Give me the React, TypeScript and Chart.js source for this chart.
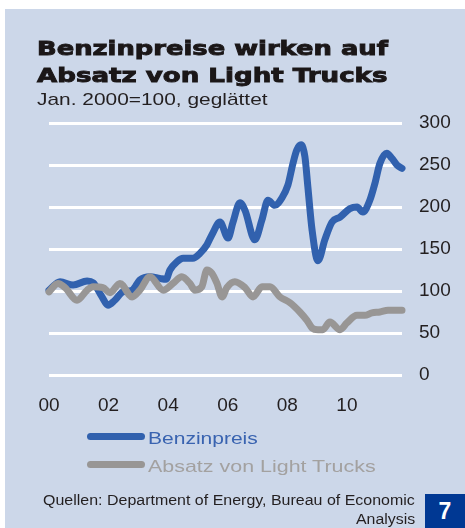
import React, { useEffect, useLayoutEffect, useRef, useState } from "react";
import { Chart, registerables } from "chart.js";

Chart.register(...registerables);

// ---- Data (decimal years, index Jan 2000 = 100) ----
const benzinTime = [
  2000.0, 2000.37, 2000.81, 2001.28, 2001.48, 2001.78, 2001.98, 2002.21, 2002.48, 2002.79,
  2003.05, 2003.39, 2003.72, 2003.93, 2004.06, 2004.3, 2004.5, 2004.83, 2005.07, 2005.3,
  2005.47, 2005.74, 2006.01, 2006.17, 2006.41, 2006.58, 2006.91, 2007.15, 2007.35, 2007.58,
  2007.82, 2008.02, 2008.19, 2008.32, 2008.46, 2008.59, 2008.69, 2008.83, 2009.03, 2009.26,
  2009.5, 2009.77, 2010.1, 2010.34, 2010.54, 2010.77, 2010.94, 2011.11, 2011.34, 2011.51,
  2011.68, 2011.85,
];
const benzinIndex = [
  101, 111, 107, 112, 110, 93, 83, 89, 99, 101,
  113, 117, 115, 114, 125, 135, 139, 139, 145, 155,
  167, 182, 163, 181, 205, 196, 161, 185, 208, 202,
  211, 226, 252, 268, 274, 260, 224, 173, 136, 161,
  182, 188, 198, 200, 194, 208, 228, 252, 264, 258,
  250, 246,
];
const absatzTime = [
  2000.0, 2000.3, 2000.54, 2000.94, 2001.28, 2001.48, 2001.81, 2002.05, 2002.38, 2002.79,
  2003.05, 2003.39, 2003.83, 2004.16, 2004.46, 2004.73, 2004.9, 2005.13, 2005.3, 2005.47,
  2005.64, 2005.81, 2005.97, 2006.24, 2006.58, 2006.85, 2007.15, 2007.42, 2007.75, 2008.09,
  2008.42, 2008.66, 2008.83, 2009.03, 2009.19, 2009.43, 2009.77, 2010.0, 2010.34, 2010.6,
  2010.84, 2011.11, 2011.38, 2011.85,
];
const absatzIndex = [
  99, 109, 104, 89, 101, 105, 104, 98, 109, 93,
  101, 117, 101, 109, 117, 109, 101, 105, 125, 121,
  109, 93, 104, 111, 104, 93, 105, 105, 93, 86,
  75, 65, 56, 54, 54, 63, 54, 62, 71, 71,
  74, 75, 77, 77,
];

const xTickValues = [2000, 2002, 2004, 2006, 2008, 2010];
const xTickLabels = ["00", "02", "04", "06", "08", "10"];
const yTickValues = [0, 50, 100, 150, 200, 250, 300];

const seriesNames = ["Benzinpreis", "Absatz von Light Trucks"];

const BG = "#ccd7e9";
const BLUE = "#3161ae";
const GRAY = "#989695";
const TEXT = "#231f20";

type FitProps = {
  text: string;
  width: number;
  top: number;
  left?: number;
  right?: number;
  font: string;
  color: string;
  extra?: React.CSSProperties;
};

function FitText({ text, width, top, left, right, font, color, extra }: FitProps) {
  const ref = useRef<HTMLSpanElement>(null);
  const [scale, setScale] = useState(1);
  useLayoutEffect(() => {
    const el = ref.current;
    if (!el) return;
    const w = el.offsetWidth;
    if (w > 0) setScale(width / w);
  }, [text, width, font]);
  const style: React.CSSProperties = {
    position: "absolute",
    top,
    whiteSpace: "nowrap",
    font,
    lineHeight: 1,
    color,
    transform: `scaleX(${scale})`,
    transformOrigin: right !== undefined ? "right top" : "left top",
    ...extra,
  };
  if (left !== undefined) style.left = left;
  if (right !== undefined) style.right = right;
  return (
    <span ref={ref} style={style}>
      {text}
    </span>
  );
}

export default function App() {
  const canvasRef = useRef<HTMLCanvasElement>(null);

  useEffect(() => {
    const canvas = canvasRef.current;
    if (!canvas) return;
    const chart = new Chart(canvas, {
      type: "line",
      data: {
        datasets: [
          {
            label: seriesNames[0],
            data: benzinTime.map((t, i) => ({ x: t, y: benzinIndex[i] })),
            borderColor: BLUE,
            borderWidth: 7,
            pointRadius: 0,
            cubicInterpolationMode: "monotone",
            borderCapStyle: "round",
            borderJoinStyle: "round",
            clip: false,
            order: 1,
          },
          {
            label: seriesNames[1],
            data: absatzTime.map((t, i) => ({ x: t, y: absatzIndex[i] })),
            borderColor: GRAY,
            borderWidth: 7,
            pointRadius: 0,
            cubicInterpolationMode: "monotone",
            borderCapStyle: "round",
            borderJoinStyle: "round",
            clip: false,
            order: 0,
          },
        ],
      },
      options: {
        animation: false,
        responsive: false,
        devicePixelRatio: 1,
        layout: { padding: { left: 49, top: 123, right: 0, bottom: 93 } },
        plugins: {
          legend: { display: false },
          tooltip: { enabled: false },
          title: { display: false },
        },
        scales: {
          x: {
            type: "linear",
            min: 2000,
            max: 2011.85,
            grid: { display: false },
            border: { display: false },
            afterBuildTicks: (s: any) => {
              s.ticks = xTickValues.map((v) => ({ value: v }));
            },
            afterFit: (s: any) => {
              s.height = 60;
            },
            ticks: {
              autoSkip: false,
              maxRotation: 0,
              padding: 11,
              color: TEXT,
              font: { family: "'Liberation Sans', Arial, sans-serif", size: 19 },
              callback: (v: any) => {
                const i = xTickValues.indexOf(Number(v));
                return i >= 0 ? xTickLabels[i] : "";
              },
            },
          },
          y: {
            position: "right",
            min: 0,
            max: 300,
            afterBuildTicks: (s: any) => {
              s.ticks = yTickValues.map((v) => ({ value: v }));
            },
            afterFit: (s: any) => {
              s.width = 63;
            },
            grid: { color: "#ffffff", lineWidth: 3, drawTicks: false },
            border: { display: false },
            ticks: {
              padding: 17,
              color: TEXT,
              font: { family: "'Liberation Sans', Arial, sans-serif", size: 19 },
            },
          },
        },
      },
    } as any);
    return () => chart.destroy();
  }, []);

  const regular = (size: number) => `${size}px 'Liberation Sans', Arial, sans-serif`;

  return (
    <div
      style={{
        position: "absolute",
        left: 0,
        top: 0,
        width: 465,
        height: 528,
        overflow: "hidden",
        background: "#ffffff",
      }}
    >
      <div
        style={{
          position: "absolute",
          left: 5,
          top: 9,
          width: 460,
          height: 519,
          background: BG,
        }}
      />
      <canvas
        ref={canvasRef}
        width={465}
        height={528}
        style={{ position: "absolute", left: 0, top: 0, width: 465, height: 528 }}
      />
      <FitText
        text="Benzinpreise wirken auf"
        width={351}
        left={37}
        top={37.5}
        font="bold 20px 'DejaVu Sans', sans-serif"
        color="#1b1718"
        extra={{ WebkitTextStroke: "0.9px #1b1718" }}
      />
      <FitText
        text="Absatz von Light Trucks"
        width={351}
        left={37}
        top={64.5}
        font="bold 20px 'DejaVu Sans', sans-serif"
        color="#1b1718"
        extra={{ WebkitTextStroke: "0.9px #1b1718" }}
      />
      <FitText
        text="Jan. 2000=100, geglättet"
        width={231}
        left={37}
        top={90.5}
        font={regular(17)}
        color={TEXT}
      />
      {/* legend */}
      <div
        style={{
          position: "absolute",
          left: 87,
          top: 433,
          width: 58,
          height: 7,
          borderRadius: 4,
          background: BLUE,
        }}
      />
      <FitText
        text={seriesNames[0]}
        width={110}
        left={148}
        top={429.5}
        font={regular(17)}
        color="#3963b0"
      />
      <div
        style={{
          position: "absolute",
          left: 87,
          top: 461,
          width: 58,
          height: 7,
          borderRadius: 4,
          background: GRAY,
        }}
      />
      <FitText
        text={seriesNames[1]}
        width={227}
        left={148}
        top={457.5}
        font={regular(17)}
        color="#a3a1a0"
      />
      {/* source */}
      <FitText
        text="Quellen: Department of Energy, Bureau of Economic"
        width={372}
        right={50}
        top={493}
        font={regular(14)}
        color={TEXT}
      />
      <FitText
        text="Analysis"
        width={59}
        right={50}
        top={511.5}
        font={regular(14)}
        color={TEXT}
      />
      <div
        style={{
          position: "absolute",
          left: 425,
          top: 494,
          width: 40,
          height: 34,
          background: "#003893",
          color: "#ffffff",
          font: "bold 23px 'Liberation Sans', Arial, sans-serif",
          lineHeight: "34px",
          textAlign: "center",
        }}
      >
        7
      </div>
    </div>
  );
}
